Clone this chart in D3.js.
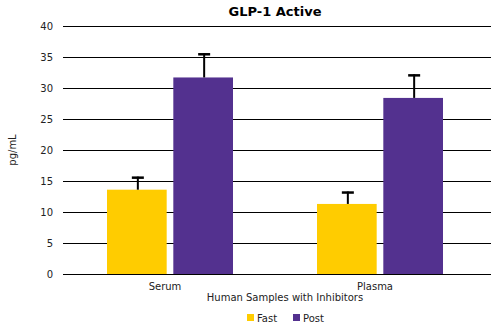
<!DOCTYPE html>
<html><head><meta charset="utf-8">
<script src="https://cdn.jsdelivr.net/npm/d3@7/dist/d3.min.js"></script>
<style>body{margin:0;background:#fff}svg{display:block;font-family:"DejaVu Sans",Verdana,sans-serif}</style>
</head><body><svg id="c" width="500" height="326"></svg>
<script>
const categories = ["Serum", "Plasma"];
const seriesNames = ["Fast", "Post"];
const fastValues = [13.6, 11.3];
const fastErrors = [2.1, 2.0];
const postValues = [31.7, 28.4];
const postErrors = [3.9, 3.8];
const yTicks = [0, 5, 10, 15, 20, 25, 30, 35, 40];
const colors = ["#FFCC00", "#53318F"];

const svg = d3.select("#c");
const x = d3.scaleBand().domain(categories).range([65, 485]).padding(0);
const sub = d3.scaleBand().domain(seriesNames).range([-63, 63]).paddingInner(0.1);
const y = d3.scaleLinear().domain([0, 40]).range([274, 26]);

// gridlines
svg.append("g").selectAll("line").data(yTicks).join("line")
  .attr("x1", 63).attr("x2", 491)
  .attr("y1", d => Math.round(y(d)) + 0.5).attr("y2", d => Math.round(y(d)) + 0.5)
  .attr("stroke", "#000").attr("stroke-width", 1);

// y tick labels
svg.append("g").selectAll("text").data(yTicks).join("text")
  .attr("x", 53).attr("y", d => y(d) + 3.5)
  .attr("text-anchor", "end").attr("font-size", 10).attr("fill", "#222")
  .text(d => d);

const series = [
  {name: "Fast", values: fastValues, errors: fastErrors, color: colors[0]},
  {name: "Post", values: postValues, errors: postErrors, color: colors[1]}
];

series.forEach(s => {
  const g = svg.append("g");
  categories.forEach((c, i) => {
    const bx = x(c) + x.bandwidth() / 2 + sub(s.name);
    const bw = sub.bandwidth();
    const cx = bx + bw / 2 + 1;
    const top = y(s.values[i] + s.errors[i]);
    g.append("rect").attr("x", bx).attr("y", y(s.values[i]))
      .attr("width", bw).attr("height", y(0) - y(s.values[i]))
      .attr("fill", s.color);
    g.append("line").attr("x1", cx).attr("x2", cx)
      .attr("y1", y(s.values[i])).attr("y2", top)
      .attr("stroke", "#000").attr("stroke-width", 2);
    g.append("line").attr("x1", cx - 6).attr("x2", cx + 6)
      .attr("y1", top + 1).attr("y2", top + 1)
      .attr("stroke", "#000").attr("stroke-width", 2.5);
  });
});

// category labels
svg.append("g").selectAll("text").data(categories).join("text")
  .attr("x", d => x(d) + x.bandwidth() / 2 - 5).attr("y", 290)
  .attr("text-anchor", "middle").attr("font-size", 10).attr("fill", "#222")
  .text(d => d);

// axis titles
svg.append("text").attr("x", 285).attr("y", 301).attr("text-anchor", "middle")
  .attr("font-size", 10).attr("fill", "#222").text("Human Samples with Inhibitors");
svg.append("text").attr("transform", "translate(16,150) rotate(-90)")
  .attr("text-anchor", "middle").attr("font-size", 10).attr("fill", "#222").text("pg/mL");

// title
svg.append("text").attr("x", 275).attr("y", 16).attr("text-anchor", "middle")
  .attr("font-size", 13).attr("font-weight", "bold").attr("fill", "#000").text("GLP-1 Active");

// legend
const lx = [247, 293];
const lg = svg.append("g").selectAll("g").data(series).join("g")
  .attr("transform", (d, i) => `translate(${lx[i]},314)`);
lg.append("rect").attr("width", 7).attr("height", 7).attr("fill", d => d.color);
lg.append("text").attr("x", 10).attr("y", 7.5).attr("font-size", 10).attr("fill", "#222").text(d => d.name);
</script></body></html>
